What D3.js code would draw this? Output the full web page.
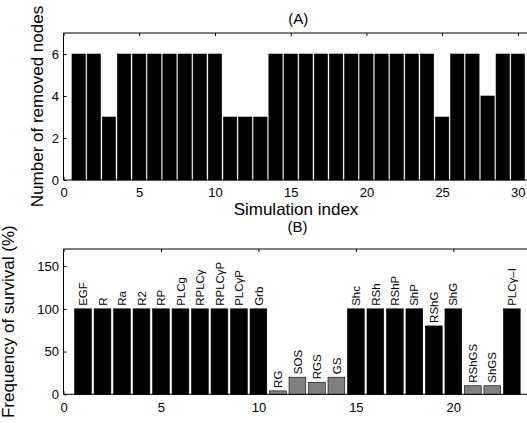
<!DOCTYPE html>
<html>
<head>
<meta charset="utf-8">
<script src="https://cdn.jsdelivr.net/npm/d3@7"></script>
<style>
	body { margin: 0; background: #fff; }
	svg { display: block; font-family: "Liberation Sans", Arial, Helvetica, sans-serif; }
	.tick line { stroke: #000; }
	.tick text { font-size: 13px; fill: #000; }
</style>
</head>
<body>
<div id="chart"></div>
<script>
// ----------------------------------------
// DATA

// (A) number of removed nodes per simulation (index 1..30)
var removedNodes = [6, 6, 3, 6, 6, 6, 6, 6, 6, 6,
	3, 3, 3, 6, 6, 6, 6, 6, 6, 6,
	6, 6, 6, 6, 3, 6, 6, 4, 6, 6];
var topXTicks = [0, 5, 10, 15, 20, 25, 30];
var topYTicks = [0, 2, 4, 6];

// (B) frequency of survival (%) per node (index 1..23)
var nodeNames = ["EGF", "R", "Ra", "R2", "RP", "PLCg", "RPLCγ", "RPLCγP", "PLCγP", "Grb",
	"RG", "SOS", "RGS", "GS", "Shc", "RSh", "RShP", "ShP", "RShG", "ShG",
	"RShGS", "ShGS", "PLCγ–I"];
var survival = [100, 100, 100, 100, 100, 100, 100, 100, 100, 100,
	4, 20, 14, 20, 100, 100, 100, 100, 80, 100,
	10, 10, 100];
var botXTicks = [0, 5, 10, 15, 20];
var botYTicks = [0, 50, 100, 150];

// ----------------------------------------
// SETUP

var width = 527;
var height = 423;
var left = 63.5;

var svg = d3.select("#chart").append("svg")
	.attr("width", width)
	.attr("height", height);

function drawPanel(opt) {
	var g = svg.append("g");
	var x = opt.x, y = opt.y;
	var x0 = x.range()[0], x1 = x.range()[1];
	var y0 = y.range()[0], y1 = y.range()[1];
	var fmt = d3.format("d");

	// bottom axis (ticks point inward)
	g.append("g")
		.attr("transform", "translate(0," + y0 + ")")
		.call(d3.axisBottom(x).tickValues(opt.xTicks).tickFormat(fmt)
			.tickSizeInner(-3).tickSizeOuter(0).tickPadding(8))
		.call(function (a) { a.select(".domain").remove(); });

	// top axis, ticks only
	g.append("g")
		.attr("transform", "translate(0," + y1 + ")")
		.call(d3.axisTop(x).tickValues(opt.xTicks).tickSizeInner(-3).tickSizeOuter(0).tickFormat(""))
		.call(function (a) { a.select(".domain").remove(); });

	// left axis
	g.append("g")
		.attr("transform", "translate(" + x0 + ",0)")
		.call(d3.axisLeft(y).tickValues(opt.yTicks).tickFormat(fmt)
			.tickSizeInner(-3).tickSizeOuter(0).tickPadding(4.5))
		.call(function (a) { a.select(".domain").remove(); });

	// bars
	var bw = opt.barFrac * (x(1) - x(0));
	g.selectAll("rect.bar")
		.data(opt.values)
		.enter().append("rect")
		.attr("class", "bar")
		.attr("x", function (d, i) { return x(i + 1) - bw / 2; })
		.attr("y", function (d) { return y(d); })
		.attr("width", bw)
		.attr("height", function (d) { return y(0) - y(d); })
		.attr("fill", function (d) { return opt.fill ? opt.fill(d) : "#000"; })
		.attr("stroke", "#000")
		.attr("stroke-width", 0.6);

	// box
	g.append("path")
		.attr("d", "M" + x1 + "," + y0 + "H" + x0 + "V" + y1 + "H" + x1)
		.attr("fill", "none")
		.attr("stroke", "#000")
		.attr("stroke-width", 1);

	// title
	g.append("text")
		.attr("x", (x0 + x1) / 2)
		.attr("y", opt.titleY)
		.attr("text-anchor", "middle")
		.style("font-size", "15px")
		.text(opt.title);

	// y label
	g.append("text")
		.attr("transform", "translate(" + opt.yLabelX + "," + (y0 + y1) / 2 + ") rotate(-90)")
		.attr("text-anchor", "middle")
		.style("font-size", "17px")
		.text(opt.yLabel);

	return g;
}

// ----------------------------------------
// (A)

var xTop = d3.scaleLinear().domain([0, 31]).range([left, 533]);
var yTop = d3.scaleLinear().domain([0, 7]).range([180, 33]);

drawPanel({
	x: xTop, y: yTop, xTicks: topXTicks, yTicks: topYTicks,
	values: removedNodes, barFrac: 0.88,
	title: "(A)", titleY: 24,
	yLabel: "Number of removed nodes", yLabelX: 43
});

svg.append("text")
	.attr("x", 296)
	.attr("y", 215)
	.attr("text-anchor", "middle")
	.style("font-size", "17px")
	.text("Simulation index");

// ----------------------------------------
// (B)

var xBot = d3.scaleLinear().domain([0, 24]).range([left, 531.3]);
var yBot = d3.scaleLinear().domain([0, 170]).range([394.3, 249]);

var gB = drawPanel({
	x: xBot, y: yBot, xTicks: botXTicks, yTicks: botYTicks,
	values: survival, barFrac: 0.86,
	fill: function (d) { return d < 50 ? "#808080" : "#000"; },
	title: "(B)", titleY: 232,
	yLabel: "Frequency of survival (%)", yLabelX: 14
});

// node name labels above bars
gB.selectAll("text.node")
	.data(survival)
	.enter().append("text")
	.attr("class", "node")
	.attr("transform", function (d, i) {
		return "translate(" + xBot(i + 1) + "," + (yBot(d) - 3) + ") rotate(-90)";
	})
	.attr("dy", "0.36em")
	.attr("text-anchor", "start")
	.style("font-size", "11.5px")
	.text(function (d, i) { return nodeNames[i]; });
</script>
</body>
</html>
